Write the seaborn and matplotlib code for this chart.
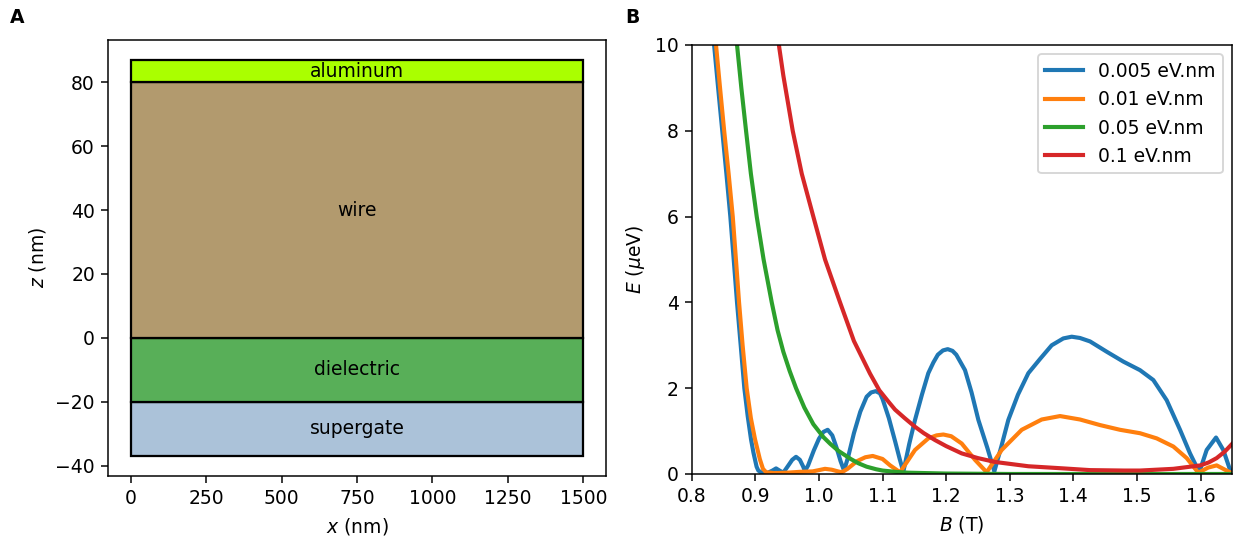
import pandas as pd
import matplotlib
matplotlib.use("Agg")
import matplotlib.pyplot as plt
from matplotlib.patches import Rectangle
import seaborn as sns

# panel A: layers of the device cross section (nm)
layer_names = ["supergate", "dielectric", "wire", "aluminum"]
layer_bottom = [-37, -20, 0, 80]
layer_top = [-20, 0, 80, 87]
layer_colors = ["#abc2d9", "#58af58", "#b29a6e", "#aaff00"]
x_left, x_right = 0, 1500

# panel B: gap E (ueV) vs field B (T) for several spin-orbit strengths
series_labels = ["0.005 eV.nm", "0.01 eV.nm", "0.05 eV.nm", "0.1 eV.nm"]

b_0005 = [0.832, 0.8415, 0.848, 0.8545, 0.8607, 0.866, 0.8712, 0.877, 0.8827, 0.888,
          0.8932, 0.897, 0.900, 0.902, 0.9047, 0.910, 0.920, 0.927, 0.9326, 0.938,
          0.944, 0.952, 0.958, 0.964, 0.970, 0.975, 0.978, 0.983, 0.992, 1.000,
          1.007, 1.0138, 1.021, 1.028, 1.034, 1.0395, 1.046, 1.055, 1.065, 1.075,
          1.082, 1.0893, 1.096, 1.100, 1.110, 1.120, 1.127, 1.1327, 1.142, 1.1511,
          1.162, 1.172, 1.180, 1.187, 1.195, 1.2025, 1.210, 1.216, 1.2297, 1.240,
          1.2507, 1.265, 1.2758, 1.287, 1.2978, 1.313, 1.3293, 1.3476, 1.366, 1.3843,
          1.3975, 1.4105, 1.4263, 1.4525, 1.4786, 1.5049, 1.5258, 1.5468, 1.5678, 1.5835,
          1.5981, 1.6097, 1.6244, 1.6358, 1.6475]
e_0005 = [10.5, 9.0, 8.0, 7.0, 6.0, 5.0, 4.0, 3.0, 2.0, 1.35,
          0.81, 0.5, 0.3, 0.17, 0.08, 0.03, 0.03, 0.08, 0.13, 0.08,
          0.03, 0.2, 0.33, 0.40, 0.33, 0.18, 0.07, 0.2, 0.55, 0.82,
          0.98, 1.03, 0.9, 0.6, 0.3, 0.08, 0.4, 0.95, 1.45, 1.8,
          1.9, 1.93, 1.88, 1.75, 1.3, 0.75, 0.35, 0.05, 0.7, 1.26,
          1.85, 2.35, 2.6, 2.78, 2.88, 2.91, 2.87, 2.78, 2.42, 1.9,
          1.26, 0.6, 0.06, 0.65, 1.26, 1.85, 2.35, 2.68, 3.0, 3.16,
          3.2, 3.17, 3.09, 2.85, 2.62, 2.42, 2.19, 1.72, 1.03, 0.48,
          0.04, 0.56, 0.85, 0.56, 0.05]

b_001 = [0.835, 0.8445, 0.851, 0.858, 0.8645, 0.8695, 0.8744, 0.880, 0.8864, 0.893,
         0.8995, 0.907, 0.912, 0.917, 0.930, 0.950, 0.970, 0.990, 1.000, 1.0096,
         1.020, 1.030, 1.0358, 1.045, 1.060, 1.073, 1.0846, 1.100, 1.112, 1.1275,
         1.1511, 1.172, 1.185, 1.1956, 1.208, 1.2245, 1.2454, 1.2638, 1.2874, 1.3189,
         1.3503, 1.3791, 1.4105, 1.442, 1.4734, 1.5049, 1.5311, 1.5573, 1.5783, 1.5965,
         1.6122, 1.6254, 1.6384, 1.649]
e_001 = [10.5, 9.0, 8.0, 7.0, 6.0, 5.0, 4.0, 3.0, 2.0, 1.3,
         0.81, 0.35, 0.12, 0.04, 0.02, 0.03, 0.05, 0.06, 0.09, 0.12,
         0.1, 0.06, 0.04, 0.12, 0.3, 0.39, 0.42, 0.35, 0.2, 0.04,
         0.56, 0.83, 0.9, 0.92, 0.88, 0.71, 0.33, 0.04, 0.56, 1.03,
         1.27, 1.35, 1.27, 1.14, 1.03, 0.95, 0.83, 0.64, 0.37, 0.03,
         0.15, 0.2, 0.1, 0.02]

b_005 = [0.868, 0.8717, 0.878, 0.8854, 0.893, 0.9022, 0.913, 0.9258, 0.935, 0.944,
         0.954, 0.964, 0.977, 0.9912, 1.007, 1.018, 1.0305, 1.05, 1.062, 1.075,
         1.09, 1.10, 1.12, 1.14, 1.17, 1.20, 1.30, 1.40, 1.50, 1.65]
e_005 = [10.5, 9.93, 9.0, 8.0, 7.0, 6.0, 5.0, 4.0, 3.35, 2.85,
         2.4, 2.0, 1.55, 1.16, 0.86, 0.7, 0.54, 0.35, 0.25, 0.17,
         0.11, 0.08, 0.05, 0.03, 0.02, 0.01, 0.0, 0.0, 0.0, 0.0]

b_01 = [0.933, 0.9377, 0.944, 0.9588, 0.973, 0.9912, 1.0096, 1.0332, 1.055, 1.0803,
        1.095, 1.1107, 1.1197, 1.135, 1.1511, 1.165, 1.1826, 1.200, 1.2245, 1.250,
        1.2769, 1.3293, 1.3843, 1.4263, 1.480, 1.5049, 1.5573, 1.5997, 1.613, 1.6254,
        1.638, 1.6496]
e_01 = [10.5, 9.93, 9.29, 8.0, 7.0, 6.0, 5.0, 4.0, 3.1, 2.34,
        1.95, 1.66, 1.50, 1.3, 1.10, 0.95, 0.79, 0.65, 0.48, 0.37,
        0.28, 0.18, 0.13, 0.09, 0.08, 0.08, 0.12, 0.2, 0.27, 0.37,
        0.52, 0.70]

df_gap = pd.concat([
    pd.DataFrame({"B": b_0005, "E": e_0005, "alpha": series_labels[0]}),
    pd.DataFrame({"B": b_001, "E": e_001, "alpha": series_labels[1]}),
    pd.DataFrame({"B": b_005, "E": e_005, "alpha": series_labels[2]}),
    pd.DataFrame({"B": b_01, "E": e_01, "alpha": series_labels[3]}),
], ignore_index=True)

fig = plt.figure(figsize=(1239 / 135, 542 / 135), dpi=135)
ax_a = fig.add_axes([0.0872, 0.1218, 0.4019, 0.8044])
ax_b = fig.add_axes([0.5583, 0.1255, 0.4363, 0.7915])

# panel A: stacked rectangles
for name, bot, top, col in zip(layer_names, layer_bottom, layer_top, layer_colors):
    ax_a.add_patch(Rectangle((x_left, bot), x_right - x_left, top - bot,
                             facecolor=col, edgecolor="black", linewidth=1.2))
    ax_a.text((x_left + x_right) / 2, (bot + top) / 2, name,
              ha="center", va="center", fontsize=10)
ax_a.autoscale_view()
ax_a.set_xticks([0, 250, 500, 750, 1000, 1250, 1500])
ax_a.set_yticks([-40, -20, 0, 20, 40, 60, 80])
ax_a.set_xlabel("$x$ (nm)")
ax_a.set_ylabel("$z$ (nm)")

# panel B: gap vs field
sns.lineplot(data=df_gap, x="B", y="E", hue="alpha", hue_order=series_labels,
             palette="tab10", estimator=None, sort=False, linewidth=2.2, ax=ax_b)
ax_b.set_xlim(0.8, 1.65)
ax_b.set_ylim(0, 10)
ax_b.set_xlabel("$B$ (T)")
ax_b.set_ylabel("$E$ ($\\mu$eV)")
handles, labels = ax_b.get_legend_handles_labels()
ax_b.legend(handles=handles, labels=labels, loc="upper right")

fig.text(0.008, 0.967, "A", fontweight="bold", va="center", ha="left")
fig.text(0.5044, 0.967, "B", fontweight="bold", va="center", ha="left")

fig.savefig("out.png", dpi=135)
